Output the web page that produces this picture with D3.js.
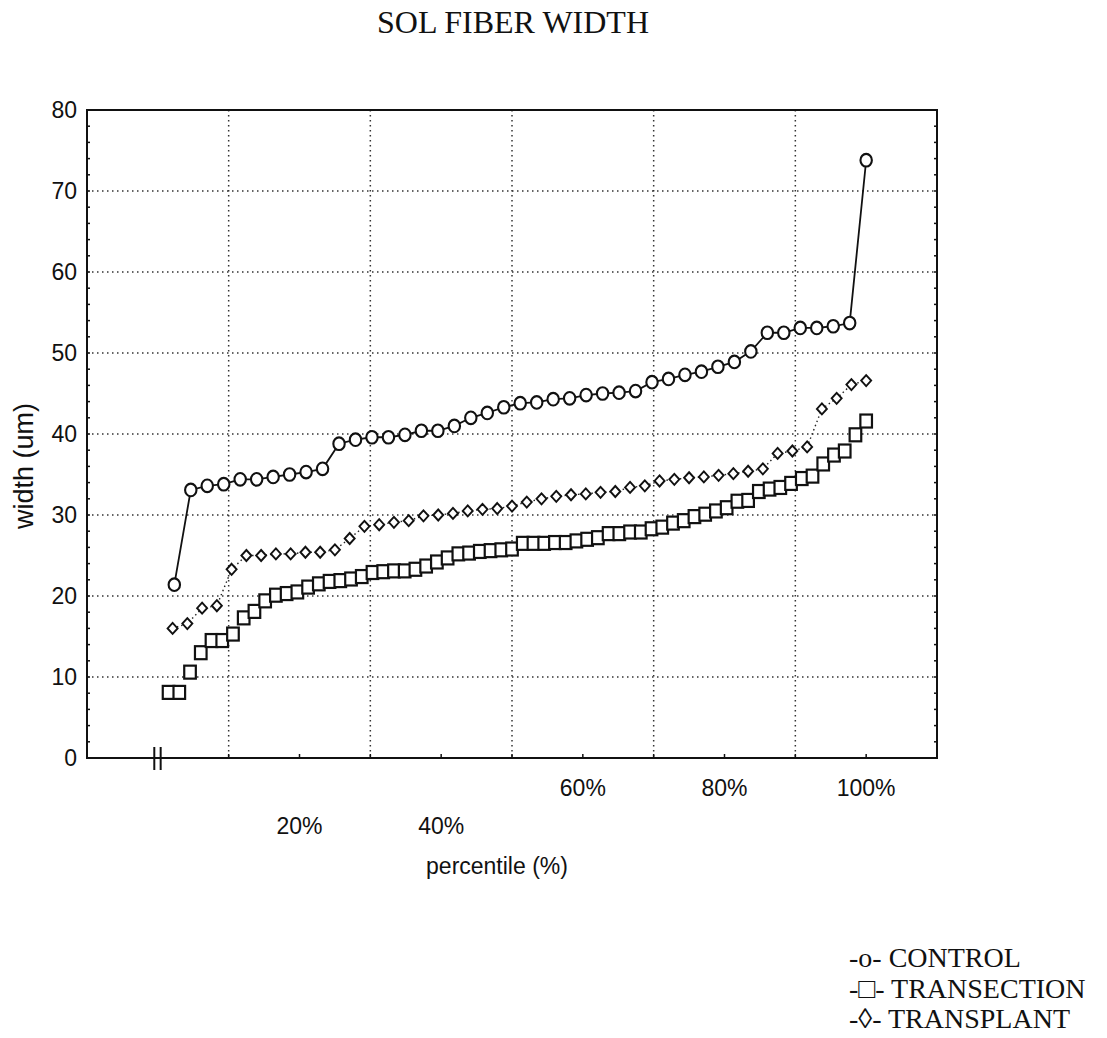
<!DOCTYPE html>
<html>
<head>
<meta charset="utf-8">
<script src="https://cdn.jsdelivr.net/npm/d3@7"></script>
<style>
body { margin: 0; background: #fff; }
text { fill: #111; }
</style>
</head>
<body>
<svg id="chart"></svg>
<script>
// fibre widths (um), sorted
var control = [21.4, 33.1, 33.6, 33.8, 34.4, 34.4, 34.7, 35.0, 35.3, 35.7, 38.8, 39.3, 39.6, 39.6, 39.9,
    40.4, 40.4, 41.0, 42.0, 42.6, 43.3, 43.8, 43.9, 44.3, 44.4, 44.8, 45.0, 45.1, 45.3, 46.4, 46.8,
    47.3, 47.7, 48.3, 48.9, 50.2, 52.5, 52.5, 53.1, 53.1, 53.3, 53.7, 73.8];
var transection = [8.1, 8.1, 10.6, 13.0, 14.5, 14.5, 15.3, 17.3, 18.1, 19.4, 20.1, 20.3, 20.5, 21.1,
    21.5, 21.8, 21.9, 22.1, 22.4, 22.9, 23.0, 23.1, 23.1, 23.3, 23.7, 24.2, 24.7, 25.2, 25.3, 25.5,
    25.6, 25.7, 25.8, 26.5, 26.5, 26.5, 26.6, 26.6, 26.8, 27.0, 27.2, 27.7, 27.7, 27.9, 27.9, 28.3,
    28.5, 29.0, 29.3, 29.8, 30.1, 30.5, 30.9, 31.7, 31.8, 32.9, 33.2, 33.4, 33.9, 34.5, 34.8, 36.3,
    37.4, 37.9, 39.9, 41.6];
var transplant = [16.0, 16.6, 18.5, 18.8, 23.3, 25.0, 25.0, 25.2, 25.2, 25.4, 25.4, 25.7, 27.1, 28.6,
    28.8, 29.1, 29.3, 29.9, 30.0, 30.2, 30.5, 30.7, 30.8, 31.1, 31.6, 32.0, 32.3, 32.5, 32.6, 32.8,
    32.9, 33.4, 33.6, 34.2, 34.4, 34.6, 34.7, 34.9, 35.1, 35.4, 35.7, 37.6, 37.9, 38.4, 43.1, 44.4,
    46.1, 46.6];

var yTicks = [0, 10, 20, 30, 40, 50, 60, 70, 80];
var xGrid = [10, 30, 50, 70, 90];
var xLabels = [20, 40, 60, 80, 100];
var legendLabels = ["-o- CONTROL", "-\u25A1- TRANSECTION", "-\u25CA- TRANSPLANT"];

var W = 1107, H = 1038;
var margin = { top: 110, right: 170, bottom: 280, left: 87 },
    width = W - margin.left - margin.right,
    height = H - margin.top - margin.bottom;

var svg = d3.select("#chart")
    .attr("width", W)
    .attr("height", H);

var g = svg.append("g")
    .attr("transform", "translate(" + margin.left + "," + margin.top + ")");

var x = d3.scaleLinear().domain([-10, 110]).range([0, width]);
var y = d3.scaleLinear().domain([0, 80]).range([height, 0]);

// percentile of the i-th sorted value
function toPoints(arr) {
    return arr.map(function(v, i) { return { p: (i + 1) / arr.length * 100, v: v }; });
}

// dotted grid
g.append("g").selectAll("line")
    .data(yTicks.filter(function(d) { return d > 0 && d < 80; }))
    .enter().append("line")
    .attr("x1", 0).attr("x2", width)
    .attr("y1", function(d) { return y(d); }).attr("y2", function(d) { return y(d); })
    .attr("stroke", "#333").attr("stroke-width", 1.5).attr("stroke-dasharray", "1.5,3.5");

g.append("g").selectAll("line")
    .data(xGrid)
    .enter().append("line")
    .attr("y1", 0).attr("y2", height)
    .attr("x1", function(d) { return x(d); }).attr("x2", function(d) { return x(d); })
    .attr("stroke", "#333").attr("stroke-width", 1.5).attr("stroke-dasharray", "1.5,3.5");

// minor ticks on left/right borders
var minor = d3.range(0, 81, 2);
g.append("g").selectAll("line")
    .data(minor).enter().append("line")
    .attr("x1", 0).attr("x2", 3)
    .attr("y1", function(d) { return y(d); }).attr("y2", function(d) { return y(d); })
    .attr("stroke", "#111").attr("stroke-width", 1.5);
g.append("g").selectAll("line")
    .data(minor).enter().append("line")
    .attr("x1", width - 3).attr("x2", width)
    .attr("y1", function(d) { return y(d); }).attr("y2", function(d) { return y(d); })
    .attr("stroke", "#111").attr("stroke-width", 1.5);
g.append("g").selectAll("line")
    .data(xGrid.concat(xLabels)).enter().append("line")
    .attr("x1", function(d) { return x(d); }).attr("x2", function(d) { return x(d); })
    .attr("y1", height).attr("y2", height - 4)
    .attr("stroke", "#111").attr("stroke-width", 1.5);

// frame
g.append("rect")
    .attr("width", width).attr("height", height)
    .attr("fill", "none").attr("stroke", "#111").attr("stroke-width", 2);

// axis break mark
[-0.5, 0.4].forEach(function(d) {
    g.append("line")
        .attr("x1", x(d)).attr("x2", x(d))
        .attr("y1", height - 11).attr("y2", height + 12)
        .attr("stroke", "#111").attr("stroke-width", 2);
});

// y axis labels
var yAxis = d3.axisLeft(y).tickValues(yTicks).tickSize(0).tickPadding(10);
g.append("g").call(yAxis)
    .call(function(s) { s.select(".domain").remove(); })
    .selectAll("text")
    .attr("font-family", "Liberation Sans, Arial, sans-serif")
    .attr("font-size", 23)
    .attr("fill", "#111");

// x labels, staggered on two rows
g.append("g").selectAll("text")
    .data(xLabels).enter().append("text")
    .attr("x", function(d) { return x(d); })
    .attr("y", function(d) { return d < 50 ? height + 76 : height + 38; })
    .attr("text-anchor", "middle")
    .attr("font-family", "Liberation Sans, Arial, sans-serif")
    .attr("font-size", 23)
    .text(function(d) { return d + "%"; });

g.append("text")
    .attr("x", 410).attr("y", height + 116)
    .attr("text-anchor", "middle")
    .attr("font-family", "Liberation Sans, Arial, sans-serif")
    .attr("font-size", 23)
    .text("percentile (%)");

svg.append("text")
    .attr("transform", "translate(33,466) rotate(-90)")
    .attr("text-anchor", "middle")
    .attr("font-family", "Liberation Sans, Arial, sans-serif")
    .attr("font-size", 27)
    .text("width (um)");

svg.append("text")
    .attr("x", 513).attr("y", 33)
    .attr("text-anchor", "middle")
    .attr("font-family", "Liberation Serif, Times New Roman, serif")
    .attr("font-size", 32)
    .text("SOL FIBER WIDTH");

// series
var line = d3.line()
    .x(function(d) { return x(d.p); })
    .y(function(d) { return y(d.v); });

var tp = toPoints(transplant);
g.append("path").datum(tp)
    .attr("d", line).attr("fill", "none")
    .attr("stroke", "#222").attr("stroke-width", 1.4).attr("stroke-dasharray", "1.5,3");
g.append("g").selectAll("path")
    .data(tp).enter().append("path")
    .attr("transform", function(d) { return "translate(" + x(d.p) + "," + y(d.v) + ")"; })
    .attr("d", "M0,-5.5L5,0L0,5.5L-5,0Z")
    .attr("fill", "#fff").attr("stroke", "#111").attr("stroke-width", 1.9);

var tr = toPoints(transection);
g.append("g").selectAll("rect")
    .data(tr).enter().append("rect")
    .attr("x", function(d) { return x(d.p) - 5.8; })
    .attr("y", function(d) { return y(d.v) - 6.5; })
    .attr("width", 11.6).attr("height", 13)
    .attr("fill", "#fff").attr("stroke", "#111").attr("stroke-width", 2.2);

var ct = toPoints(control);
g.append("path").datum(ct)
    .attr("d", line).attr("fill", "none")
    .attr("stroke", "#111").attr("stroke-width", 1.8);
g.append("g").selectAll("ellipse")
    .data(ct).enter().append("ellipse")
    .attr("cx", function(d) { return x(d.p); })
    .attr("cy", function(d) { return y(d.v); })
    .attr("rx", 5.7).attr("ry", 6.3)
    .attr("fill", "#fff").attr("stroke", "#111").attr("stroke-width", 2.1);

// legend
svg.append("g").selectAll("text")
    .data(legendLabels).enter().append("text")
    .attr("x", 849)
    .attr("y", function(d, i) { return 967 + i * 30.5; })
    .attr("font-family", "Liberation Serif, Times New Roman, serif")
    .attr("font-size", 28)
    .text(function(d) { return d; });
</script>
</body>
</html>
